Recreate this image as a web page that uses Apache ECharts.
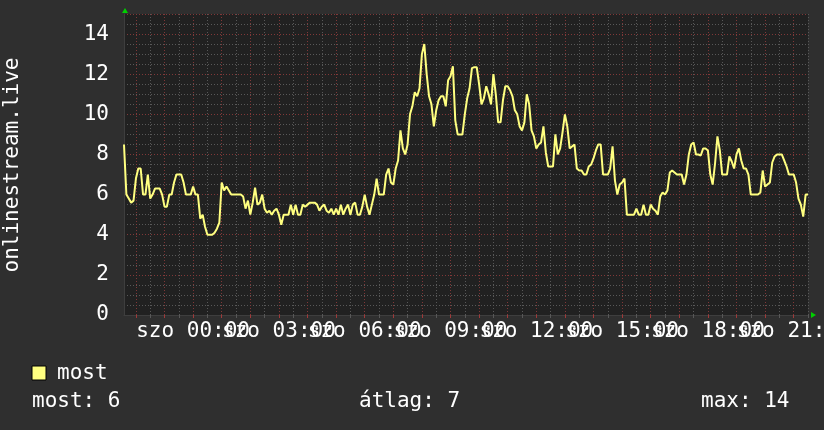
<!DOCTYPE html>
<html><head><meta charset="utf-8">
<script src="https://cdn.jsdelivr.net/npm/echarts@6/dist/echarts.min.js"></script>
<style>html,body{margin:0;padding:0;background:#2f2f2f}#c{width:824px;height:430px}</style>
</head><body><div id="c"></div>
<script>
// ---- data ----
const dayLabel = 'szo';
const startMinute = 21 * 60 + 35;   // first sample: 21:35 of previous day
const stepMinutes = 5;
const seriesName = 'most';
const axisTitle = 'onlinestream.live';
const yTickLabels = [0, 2, 4, 6, 8, 10, 12, 14];
const xLabelHours = [0, 3, 6, 9, 12, 15, 18, 21];
const values = [
  8.5, 6.0, 5.8, 5.6, 5.7, 6.8, 7.3, 7.3, 6.0, 6.0,
  7.0, 5.8, 6.0, 6.3, 6.3, 6.3, 6.0, 5.4, 5.4, 6.0,
  6.0, 6.6, 7.0, 7.0, 7.0, 6.6, 6.0, 6.0, 6.0, 6.4,
  6.0, 6.0, 4.8, 5.0, 4.4, 4.0, 4.0, 4.0, 4.1, 4.3,
  4.6, 6.6, 6.2, 6.4, 6.2, 6.0, 6.0, 6.0, 6.0, 6.0,
  5.9, 5.3, 5.7, 5.0, 5.6, 6.35, 5.5, 5.6, 6.0, 5.3,
  5.1, 5.2, 5.0, 5.2, 5.3, 5.0, 4.5, 5.0, 5.0, 5.0,
  5.5, 5.0, 5.5, 5.0, 5.0, 5.5, 5.4, 5.5, 5.6, 5.6,
  5.6, 5.5, 5.2, 5.4, 5.5, 5.2, 5.1, 5.3, 5.0, 5.3,
  5.0, 5.5, 5.0, 5.3, 5.5, 5.0, 5.5, 5.6,
  5.0, 5.0, 5.4, 6.0, 5.4, 5.0, 5.5, 6.0, 6.8, 6.0,
  6.0, 6.0, 7.0, 7.3, 6.6, 6.5, 7.3, 7.7, 9.2, 8.3,
  8.0, 8.5, 10.0, 10.4, 11.1, 10.9, 11.3, 13.0, 13.5, 12.0,
  10.9, 10.5, 9.4, 10.2, 10.7, 10.9, 10.9, 10.4, 11.7, 11.9,
  12.4, 9.7, 9.0, 9.0, 9.0, 10.0, 10.8,
  11.3, 12.3, 12.35, 12.35, 11.5, 10.5, 10.8, 11.4, 11.0, 10.5,
  12.0, 11.0, 9.6, 9.6, 10.7, 11.4, 11.4, 11.2, 10.9, 10.2,
  10.0, 9.4, 9.2, 9.6, 11.0, 10.5, 9.2, 8.9, 8.3, 8.5,
  8.6, 9.4, 8.1, 7.4, 7.4, 7.4, 9.0, 8.0, 8.3, 9.1,
  10.0, 9.4, 8.3, 8.4, 8.5, 7.3, 7.2, 7.2, 7.0,
  7.0, 7.4, 7.5, 7.8, 8.2, 8.5, 8.5, 7.0, 7.0, 7.0,
  7.3, 8.4, 6.7, 6.0, 6.5, 6.6, 6.8, 5.0, 5.0, 5.0,
  5.0, 5.3, 5.0, 5.0, 5.5, 5.0, 5.0, 5.5, 5.3, 5.2,
  5.0, 5.9, 6.1, 6.0, 6.2, 7.1, 7.2, 7.1, 7.0, 7.0,
  7.0, 6.5, 7.0, 8.0, 8.5, 8.6, 8.0, 8.0,
  7.95, 8.3, 8.3, 8.2, 7.0, 6.5, 7.55, 8.9, 8.2, 7.0,
  7.0, 7.0, 7.9, 7.65, 7.3, 8.0, 8.3, 7.7, 7.3, 7.3,
  7.0, 6.0, 6.0, 6.0, 6.0, 6.1, 7.2, 6.4, 6.5, 6.6,
  7.6, 7.9, 8.0, 8.0, 8.0, 7.7, 7.4, 7.0, 7.0, 7.0,
  6.6, 5.8, 5.5, 4.9, 6.0, 6.0
];

// ---- derived ----
const pad = n => (n < 10 ? '0' : '') + n;
const times = values.map((_, i) => {
  const m = (startMinute + i * stepMinutes) % 1440;
  return pad(Math.floor(m / 60)) + ':' + pad(m % 60);
});
const isHour = i => times[i].endsWith(':00');
const isHalf = i => times[i].endsWith(':30');
const labelRank = i => isHour(i) ? xLabelHours.indexOf(parseInt(times[i], 10)) : -1;
const isLabelA = i => labelRank(i) >= 0 && labelRank(i) % 2 === 0;
const isLabelB = i => labelRank(i) >= 0 && labelRank(i) % 2 === 1;

const last = values[values.length - 1];
const avg = values.reduce((a, b) => a + b, 0) / values.length;
const mx = Math.max(...values);

const FONT = "'DejaVu Sans Mono', monospace";
const FS = 21;
const TXT = '#ffffff';
const LINE = '#ffff80';
const MINOR = '#585858';
const MAJOR = '#803838';
const G = { left: 124, top: 14, right: 808, bottom: 315 };

const labelStyle = (fn) => ({ show: true, interval: fn, hideOverlap: false,
  showMinLabel: true, showMaxLabel: true,
  formatter: v => dayLabel + ' ' + v, color: TXT, fontFamily: FONT, fontSize: FS, margin: 6 });

const chart = echarts.init(document.getElementById('c'), null, { renderer: 'canvas' });
chart.setOption({
  animation: false,
  backgroundColor: '#2f2f2f',
  grid: { left: G.left, top: G.top, width: G.right - G.left, height: G.bottom - G.top,
          show: true, backgroundColor: '#212121', borderWidth: 0,
          containLabel: false, outerBoundsMode: 'none' },
  xAxis: [
    { type: 'category', data: times, boundaryGap: false,
      axisLine: { show: true, lineStyle: { color: '#3e3e3e', width: 1 } },
      axisTick: { show: true, interval: i => isHalf(i), length: 3, lineStyle: { color: MINOR } },
      splitLine: { show: true, interval: i => isHalf(i), lineStyle: { color: MINOR, type: [1, 2], width: 1 } },
      axisLabel: { show: false } },
    { type: 'category', data: times, boundaryGap: false, position: 'bottom',
      axisLine: { show: false },
      axisTick: { show: true, interval: i => isHour(i), length: 3, lineStyle: { color: '#a03a3a' } },
      splitLine: { show: true, interval: i => isHour(i), lineStyle: { color: MAJOR, type: [1, 2], width: 1 } },
      axisLabel: labelStyle(isLabelA) },
    { type: 'category', data: times, boundaryGap: false, position: 'bottom',
      axisLine: { show: false }, axisTick: { show: false }, splitLine: { show: false },
      axisLabel: labelStyle(isLabelB) }
  ],
  yAxis: [
    { type: 'value', min: 0, max: 15, interval: 0.5,
      axisLine: { show: true, lineStyle: { color: '#3e3e3e', width: 1 } },
      axisTick: { show: false },
      splitLine: { show: true, lineStyle: { color: MINOR, type: [1, 2], width: 1 } },
      axisLabel: { show: false } },
    { type: 'value', min: 0, max: 15, interval: 2, position: 'left',
      axisLine: { show: false }, axisTick: { show: false },
      splitLine: { show: true, lineStyle: { color: MAJOR, type: [1, 2], width: 1 } },
      axisLabel: { show: true, color: TXT, fontFamily: FONT, fontSize: FS, margin: 15,
        formatter: v => (yTickLabels.indexOf(v) >= 0 ? String(v) : '') } }
  ],
  series: [{
    name: seriesName, type: 'line', data: values, xAxisIndex: 0, yAxisIndex: 0,
    showSymbol: false, symbol: 'none', smooth: false,
    lineStyle: { color: LINE, width: 2 }, z: 5
  }],
  graphic: [
    { type: 'text', x: 13, y: 165, rotation: Math.PI / 2,
      style: { text: axisTitle, fill: TXT, font: FS + 'px ' + FONT, textAlign: 'center', textVerticalAlign: 'middle', align: 'center', verticalAlign: 'middle' } },
    { type: 'polygon', shape: { points: [[G.left + 1, 8], [G.left - 2, 13], [G.left + 4, 13]] }, style: { fill: '#00d000' } },
    { type: 'polygon', shape: { points: [[G.right + 8, G.bottom], [G.right + 3, G.bottom - 3], [G.right + 3, G.bottom + 3]] }, style: { fill: '#00d000' } },
    { type: 'rect', shape: { x: 32, y: 366, width: 14, height: 14 }, style: { fill: LINE, stroke: '#000', lineWidth: 1 } },
    { type: 'text', x: 57, y: 374, style: { text: seriesName, fill: TXT, font: FS + 'px ' + FONT, textVerticalAlign: 'middle', verticalAlign: 'middle' } },
    { type: 'text', x: 32, y: 402, style: { text: 'most: ' + Math.round(last), fill: TXT, font: FS + 'px ' + FONT, textVerticalAlign: 'middle', verticalAlign: 'middle' } },
    { type: 'text', x: 359, y: 402, style: { text: '\u00e1tlag: ' + Math.round(avg), fill: TXT, font: FS + 'px ' + FONT, textVerticalAlign: 'middle', verticalAlign: 'middle' } },
    { type: 'text', x: 701, y: 402, style: { text: 'max: ' + Math.round(mx), fill: TXT, font: FS + 'px ' + FONT, textVerticalAlign: 'middle', verticalAlign: 'middle' } }
  ]
});
</script></body></html>
